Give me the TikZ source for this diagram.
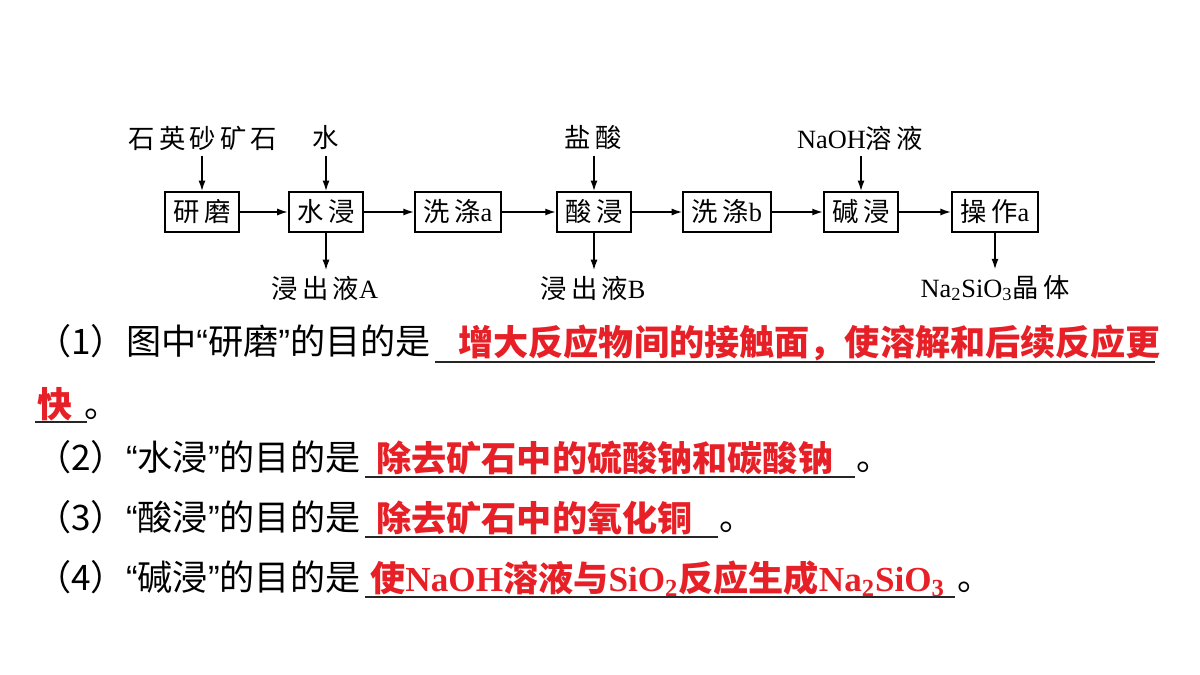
\documentclass[tikz,border=0pt]{standalone}
\usepackage{fontspec}
\setmainfont{Liberation Serif}
\newfontfamily\zhfont{Noto Sans CJK SC}
\newfontfamily\zhchart[LetterSpace=16]{Noto Sans CJK SC}
\newfontfamily\quotefont{Liberation Sans}
\usetikzlibrary{arrows.meta}
\definecolor{ansRed}{RGB}{230,32,38}
\newcommand{\zc}[1]{{\zhchart #1}}
\newcommand{\qword}[1]{{\quotefont “}#1{\quotefont ”}}

\begin{document}
\begin{tikzpicture}[x=0.02cm,y=-0.02cm,
    procbox/.style={draw,line width=1.1pt,minimum height=22.7pt,inner xsep=5pt,
      font=\fontsize{15}{18}\selectfont},
    lbl/.style={inner sep=3pt,font=\fontsize{15}{18}\selectfont},
    flow/.style={-{Latex[length=6pt,width=4pt]},line width=0.85pt},
    ques/.style={anchor=base west,inner sep=0pt,font=\fontsize{20}{24}\selectfont\zhfont},
    ans/.style={anchor=base west,inner sep=0pt,text=ansRed,
      font=\fontsize{20}{24}\selectfont\bfseries},
    uline/.style={line width=0.8pt,black!85}]
  \useasboundingbox (0,0) rectangle (1200,675);
  % process chain
  \node[procbox] (yanmo) at (202,212) {\zc{研磨}};
  \node[procbox] (shuijin) at (326,212) {\zc{水浸}};
  \node[procbox] (xidia) at (458,212) {\zc{洗涤}a};
  \node[procbox] (suanjin) at (594,212) {\zc{酸浸}};
  \node[procbox] (xidib) at (727,212) {\zc{洗涤}b};
  \node[procbox] (jianjin) at (861,212) {\zc{碱浸}};
  \node[procbox] (caozuo) at (995,212) {\zc{操作}a};
  \foreach \a/\b in {yanmo/shuijin,shuijin/xidia,xidia/suanjin,suanjin/xidib,
      xidib/jianjin,jianjin/caozuo} {
    \draw[flow] (\a) -- (\b);
  };

  % inputs
  \node[lbl] (ore) at (203,138) {\zc{石英砂矿石}};
  \node[lbl] (water) at (326,138) {\zc{水}};
  \node[lbl] (hcl) at (593,138) {\zc{盐酸}};
  \node[lbl] (naoh) at (860,138) {NaOH\zc{溶液}};
  \foreach \s/\t in {ore/yanmo,water/shuijin,hcl/suanjin,naoh/jianjin} {
    \draw[flow] (\s.south -| \t.north) -- (\t.north);
  };

  % outputs
  \node[lbl] (liqA) at (325,288) {\zc{浸出液}A};
  \node[lbl] (liqB) at (593,288) {\zc{浸出液}B};
  \node[lbl] (prod) at (995,288) {Na\textsubscript{2}SiO\textsubscript{3}\zc{晶体}};
  \foreach \s/\t in {shuijin/liqA,suanjin/liqB,caozuo/prod} {
    \draw[flow] (\s.south) -- (\s.south |- \t.north);
  };

  % questions
  \node[ques] (q1) at (36,355) {（1）图中\qword{研磨}的目的是};
  \node[ans] (a1) at (458,356) {\zhfont 增大反应物间的接触面，使溶解和后续反应更};
  \draw[uline] (435,362) -- (1155,362);
  \node[ans] (a1b) at (37,418) {\zhfont 快};
  \draw[uline] (35,422) -- (87,422);
  \node[ques] (p1) at (84,418) {。};

  \node[ques] (q2) at (36,470) {（2）\qword{水浸}的目的是};
  \node[ans] (a2) at (376,471) {\zhfont 除去矿石中的硫酸钠和碳酸钠};
  \draw[uline] (365,477) -- (855,477);
  \node[ques] (p2) at (856,470) {。};

  \node[ques] (q3) at (36,530) {（3）\qword{酸浸}的目的是};
  \node[ans] (a3) at (376,531) {\zhfont 除去矿石中的氧化铜};
  \draw[uline] (365,537) -- (718,537);
  \node[ques] (p3) at (719,530) {。};

  \node[ques] (q4) at (36,590) {（4）\qword{碱浸}的目的是};
  \node[ans] (a4) at (370,591) {{\zhfont 使}NaOH{\zhfont 溶液与}SiO\textsubscript{2}{\zhfont 反应生成}Na\textsubscript{2}SiO\textsubscript{3}};
  \draw[uline] (365,597) -- (955,597);
  \node[ques] (p4) at (957,590) {。};
\end{tikzpicture}
\end{document}
